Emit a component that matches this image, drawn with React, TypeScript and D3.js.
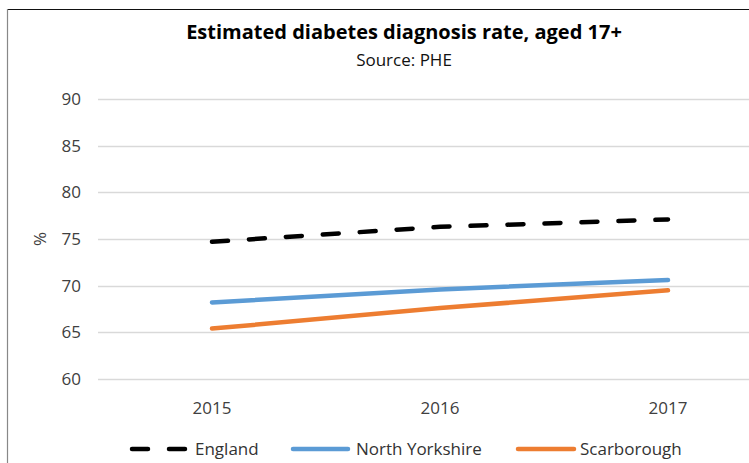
import React from "react";
import * as d3 from "d3";

const categories = ["2015", "2016", "2017"];
const englandValues = [74.7, 76.3, 77.1];
const northYorkshireValues = [68.2, 69.6, 70.6];
const scarboroughValues = [65.4, 67.6, 69.5];
const yTicks = [60, 65, 70, 75, 80, 85, 90];

const seriesNames = ["England", "North Yorkshire", "Scarborough"];
const seriesColors = ["#000000", "#5B9BD5", "#ED7D31"];
const seriesData = [englandValues, northYorkshireValues, scarboroughValues];

const W = 749;
const H = 463;
const FONT = "'Open Sans', sans-serif";

export default function App() {
  const x = d3.scalePoint<string>().domain(categories).range([98, 782]).padding(0.5);
  const y = d3.scaleLinear().domain([60, 90]).range([379, 99]);
  const line = d3
    .line<number>()
    .x((_, i) => x(categories[i]) as number)
    .y((d) => y(d));

  const legendItems = [
    { name: seriesNames[0], x1: 132, x2: 185, tx: 195, dashed: true },
    { name: seriesNames[1], x1: 293, x2: 348, tx: 356, dashed: false },
    { name: seriesNames[2], x1: 518, x2: 574, tx: 580, dashed: false },
  ];

  return (
    <svg
      width={W}
      height={H}
      style={{ position: "absolute", left: 0, top: 0, background: "#fff" }}
      fontFamily={FONT}
    >
      <rect x={0} y={0} width={W} height={H} fill="#fff" />
      {/* frame */}
      <line x1={7} x2={W} y1={9.5} y2={9.5} stroke="#111" strokeWidth={1.2} />
      <line x1={7.5} x2={7.5} y1={9} y2={H} stroke="#888" strokeWidth={1.2} />

      <text x={404} y={39} textAnchor="middle" fontSize={20} fontWeight="bold" fill="#000">
        Estimated diabetes diagnosis rate, aged 17+
      </text>
      <text x={404} y={66} textAnchor="middle" fontSize={17} fill="#111">
        Source: PHE
      </text>

      {yTicks.map((t) => (
        <g key={t}>
          <line x1={98} x2={W} y1={Math.round(y(t)) + 0.5} y2={Math.round(y(t)) + 0.5} stroke="#D9D9D9" strokeWidth={1.5} />
          <text x={81} y={y(t)} dy="0.35em" textAnchor="end" fontSize={17} fill="#404040">
            {t}
          </text>
        </g>
      ))}

      <text
        transform={`translate(46, ${y(75)}) rotate(-90)`}
        textAnchor="middle"
        fontSize={17}
        fill="#404040"
      >
        %
      </text>

      {categories.map((c) => (
        <text key={c} x={x(c)} y={414} textAnchor="middle" fontSize={17} fill="#404040">
          {c}
        </text>
      ))}

      {seriesData.map((vals, i) => (
        <path
          key={seriesNames[i]}
          d={line(vals) || ""}
          fill="none"
          stroke={seriesColors[i]}
          strokeWidth={4.5}
          strokeLinecap="round"
          strokeDasharray={i === 0 ? "16 21" : undefined}
        />
      ))}

      {legendItems.map((l, i) => (
        <g key={l.name}>
          <line
            x1={l.x1}
            x2={l.x2}
            y1={449}
            y2={449}
            stroke={seriesColors[i]}
            strokeWidth={4.5}
            strokeLinecap="round"
            strokeDasharray={l.dashed ? "16 21" : undefined}
          />
          <text x={l.tx} y={449} dy="0.35em" fontSize={17} fill="#333">
            {l.name}
          </text>
        </g>
      ))}
    </svg>
  );
}
